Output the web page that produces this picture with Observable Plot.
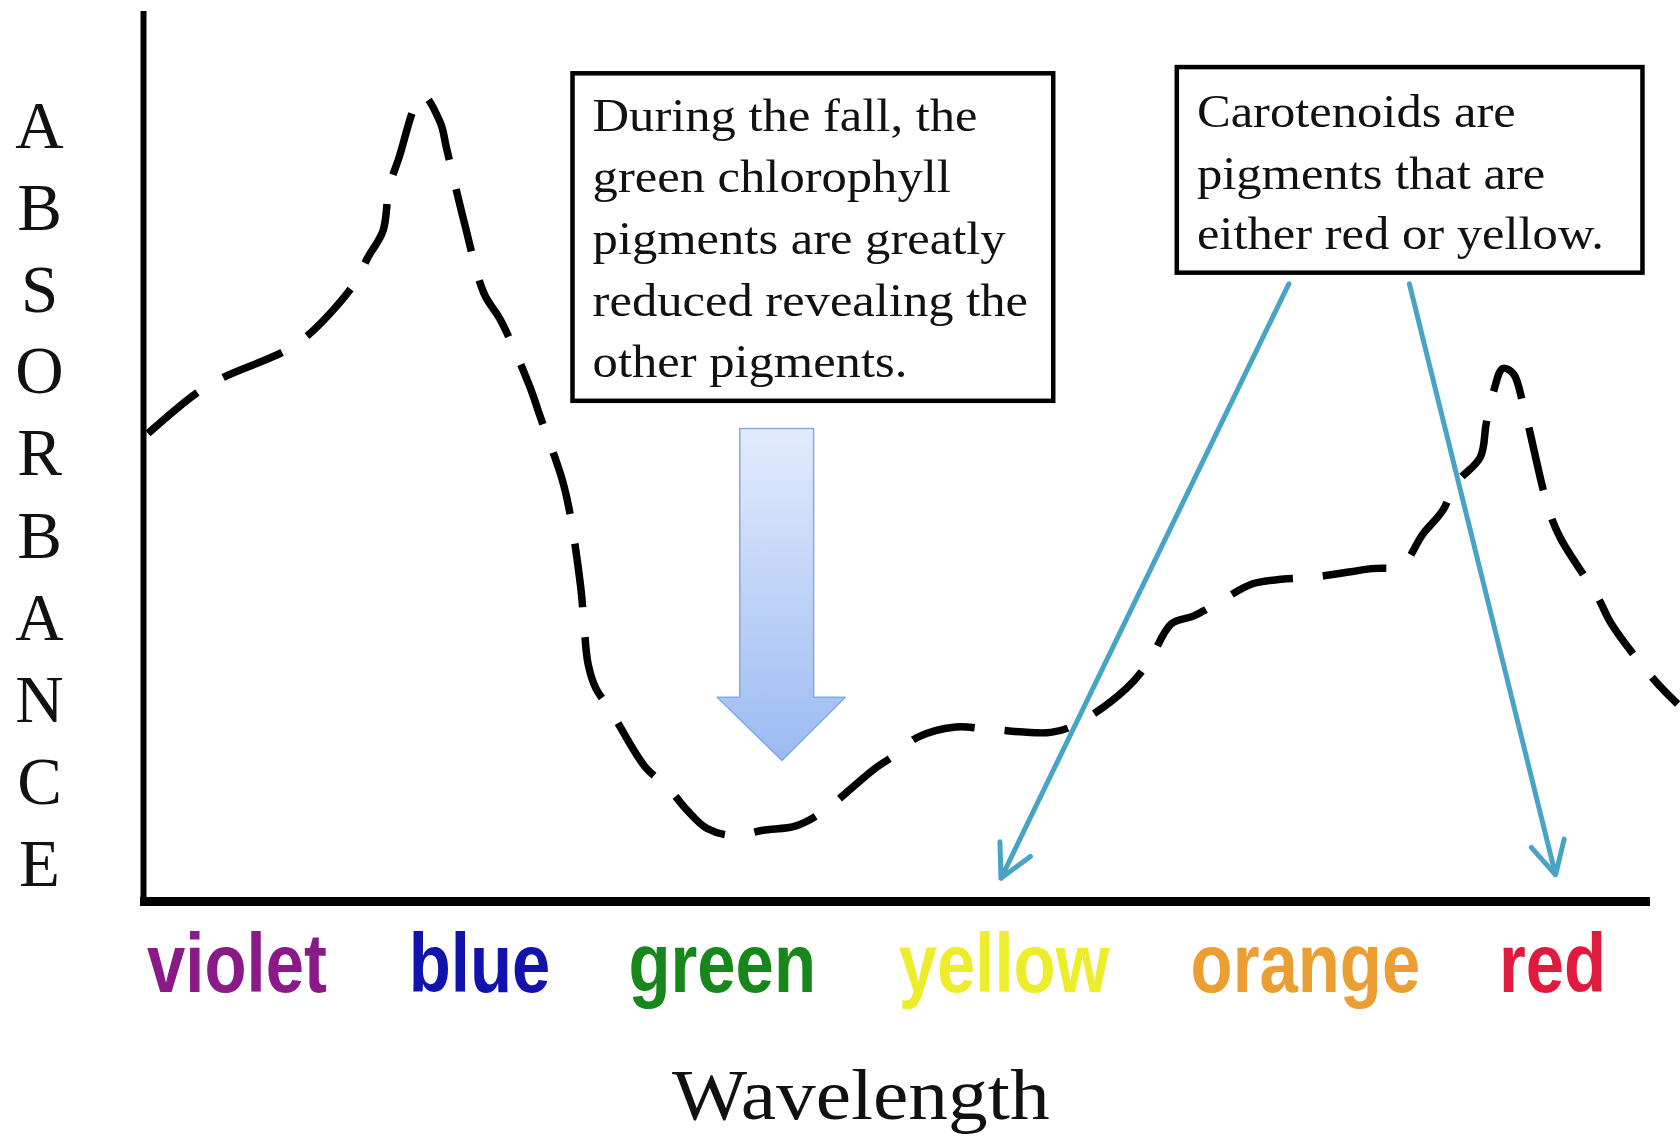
<!DOCTYPE html>
<html>
<head>
<meta charset="utf-8">
<script src="https://cdn.jsdelivr.net/npm/d3@7"></script>
<script src="https://cdn.jsdelivr.net/npm/@observablehq/plot@0.6"></script>
<style>
  html, body { margin: 0; padding: 0; background: #ffffff; }
  #chart { width: 1680px; height: 1141px; }
</style>
</head>
<body>
<div id="chart"></div>
<script>
// ---- Data (relative wavelength 0–100 along the axis, relative absorbance 0–100) ----
const curveX = [0.3,3.5,5.3,9.2,10.9,13.9,14.9,15.9,16.3,16.9,18.5,19.7,20.1,21.3,22.6,23.7,25.6,26.3,27.8,28.3,29.0,29.2,29.5,30.0,31.0,31.5,33.3,34.8,36.1,37.4,39.2,41.1,43.3,45.0,48.5,50.0,51.3,53.9,55.9,60.2,62.0,65.2,66.7,68.2,69.7,71.5,73.6,75.5,77.4,81.5,83.5,84.9,86.2,87.1,88.7,89.1,89.6,90.2,90.9,91.6,93.2,94.0,96.5,97.4,100.3,101.8];
const curveY = [52.6,57.1,58.9,61.7,63.6,69.2,72.4,75.4,80.2,83.3,90.6,87.5,84.7,76.2,68.3,65.3,58.0,54.6,47.3,43.6,35.5,31.9,26.7,24.0,21.5,20.0,15.1,12.8,10.2,8.2,7.4,8.0,8.5,10.0,14.9,16.6,18.4,19.6,19.4,19.0,20.0,23.9,26.9,31.2,32.1,33.8,35.7,36.2,36.4,37.4,37.8,41.3,43.9,47.0,49.9,53.7,57.4,59.9,59.3,55.5,44.3,40.9,34.2,31.2,24.8,22.2];

// x-axis tick labels (colour bands)
const bandNames  = ["violet", "blue", "green", "yellow", "orange", "red"];
const bandX      = [6.2, 22.3, 38.4, 57.1, 77.1, 93.5];
const bandColors = ["#8a1a88", "#1212ad", "#17871b", "#eded2c", "#eb9f33", "#df1a3d"];

// y-axis title, stacked letters
const yTitleLetters = ["A","B","S","O","R","B","A","N","C","E"];
const yTitleY = [87.1, 77.9, 68.7, 59.5, 50.3, 41.0, 31.8, 22.6, 13.4, 4.2];

// x-axis title
const xTitle = ["Wavelength"];

// Annotation 1 (chlorophyll)
const note1Lines = ["During the fall, the", "green chlorophyll", "pigments are greatly", "reduced revealing the", "other pigments."];
const note1LineY = [86.6, 79.7, 72.7, 65.8, 58.9];
const note1Box = [{x1: 28.5, x2: 60.4, y1: 56.2, y2: 93.0}];
const note1TextX = 29.8;

// Annotation 2 (carotenoids)
const note2Lines = ["Carotenoids are", "pigments that are", "either red or yellow."];
const note2LineY = [87.0, 80.1, 73.3];
const note2Box = [{x1: 68.6, x2: 99.5, y1: 70.6, y2: 93.7}];
const note2TextX = 69.9;

// Carotenoid pointer arrows
const pointerArrows = [
  {x1: 76.0, y1: 69.4, x2: 56.9, y2: 2.6},
  {x1: 84.0, y1: 69.4, x2: 93.7, y2: 3.0}
];

// Block arrow (outline rows: y, left x, right x)
const blockArrowY  = [53.1, 22.9, 22.9, 15.8];
const blockArrowX1 = [39.6, 39.6, 38.1, 42.4];
const blockArrowX2 = [44.5, 44.5, 46.6, 42.4];

// ---- build tables ----
const curve = curveX.map((x, i) => ({x, y: curveY[i]}));
const bands = bandNames.map((name, i) => ({name, x: bandX[i], color: bandColors[i]}));
const yTitle = yTitleLetters.map((l, i) => ({l, y: yTitleY[i]}));
const note1 = note1Lines.map((t, i) => ({t, y: note1LineY[i]}));
const note2 = note2Lines.map((t, i) => ({t, y: note2LineY[i]}));
const blockArrow = blockArrowY.map((y, i) => ({y, x1: blockArrowX1[i], x2: blockArrowX2[i]}));

const serif = "'Liberation Serif', 'Times New Roman', Times, serif";
const sans = "'Liberation Sans', Arial, Helvetica, sans-serif";

const defsMark = () => {
  const defs = d3.create("svg:defs");
  const lg = defs.append("linearGradient").attr("id", "blockGrad")
    .attr("x1", 0).attr("y1", 0).attr("x2", 0).attr("y2", 1);
  lg.append("stop").attr("offset", "0%").attr("stop-color", "#e2ebfc");
  lg.append("stop").attr("offset", "100%").attr("stop-color", "#9bbbf2");
  return defs.node();
};

const svg = Plot.plot({
  width: 1680,
  height: 1141,
  marginLeft: 143,
  marginRight: 30,
  marginTop: 11,
  marginBottom: 240,
  x: {domain: [0, 100], axis: null},
  y: {domain: [0, 100], axis: null},
  style: {background: "#ffffff", overflow: "visible"},
  marks: [
    defsMark,
    // axes lines
    Plot.ruleX([0], {y1: 0, y2: 100, stroke: "#000", strokeWidth: 6}),
    Plot.ruleY([0], {x1: -0.2, x2: 100, stroke: "#000", strokeWidth: 9}),
    // block arrow
    Plot.areaX(blockArrow, {y: "y", x1: "x1", x2: "x2", curve: "linear", fill: "url(#blockGrad)", stroke: "#86a9de", strokeWidth: 1.5}),
    // absorbance curve
    Plot.line(curve, {x: "x", y: "y", curve: "catmull-rom", stroke: "#000", strokeWidth: 7.5, strokeDasharray: "64,30", strokeLinecap: "butt"}),
    // annotation boxes
    Plot.rect(note1Box, {x1: "x1", x2: "x2", y1: "y1", y2: "y2", fill: "#fff", stroke: "#000", strokeWidth: 4.5}),
    Plot.rect(note2Box, {x1: "x1", x2: "x2", y1: "y1", y2: "y2", fill: "#fff", stroke: "#000", strokeWidth: 4.5}),
    Plot.text(note1, {x: note1TextX, y: "y", text: "t", textAnchor: "start", lineAnchor: "bottom", fontFamily: serif, fontSize: 46, fill: "#111"}),
    Plot.text(note2, {x: note2TextX, y: "y", text: "t", textAnchor: "start", lineAnchor: "bottom", fontFamily: serif, fontSize: 46, fill: "#111"}),
    // pointer arrows
    Plot.arrow(pointerArrows, {x1: "x1", y1: "y1", x2: "x2", y2: "y2", stroke: "#47a4c6", strokeWidth: 5, headLength: 11, headAngle: 55}),
    // colour band labels
    Plot.text(bands, {x: "x", y: -10.2, text: "name", fill: "color", textAnchor: "middle", lineAnchor: "bottom", fontFamily: sans, fontWeight: "bold", fontSize: 84}),
    // axis titles
    Plot.text(yTitle, {x: -6.9, y: "y", text: "l", textAnchor: "middle", lineAnchor: "middle", fontFamily: serif, fontSize: 67, fill: "#111"}),
    Plot.text(xTitle, {x: 47.6, y: -24.4, text: d => d, textAnchor: "middle", lineAnchor: "bottom", fontFamily: serif, fontSize: 71, fill: "#111"})
  ]
});

// horizontal stretch of texts about their anchor, to match the reference proportions
function stretchTexts(labels, sx) {
  const set = new Set(labels);
  d3.select(svg).selectAll("text").each(function () {
    if (!set.has(this.textContent)) return;
    const t = this.getAttribute("transform") || "";
    const x = +this.getAttribute("x") || 0, y = +this.getAttribute("y") || 0;
    this.setAttribute("transform", `${t} translate(${x},${y}) scale(${sx},1) translate(${-x},${-y})`);
  });
}
stretchTexts(note1Lines.concat(note2Lines), 1.1);
stretchTexts(xTitle, 1.12);
stretchTexts(bandNames, 0.82);

document.getElementById("chart").appendChild(svg);
</script>
</body>
</html>
